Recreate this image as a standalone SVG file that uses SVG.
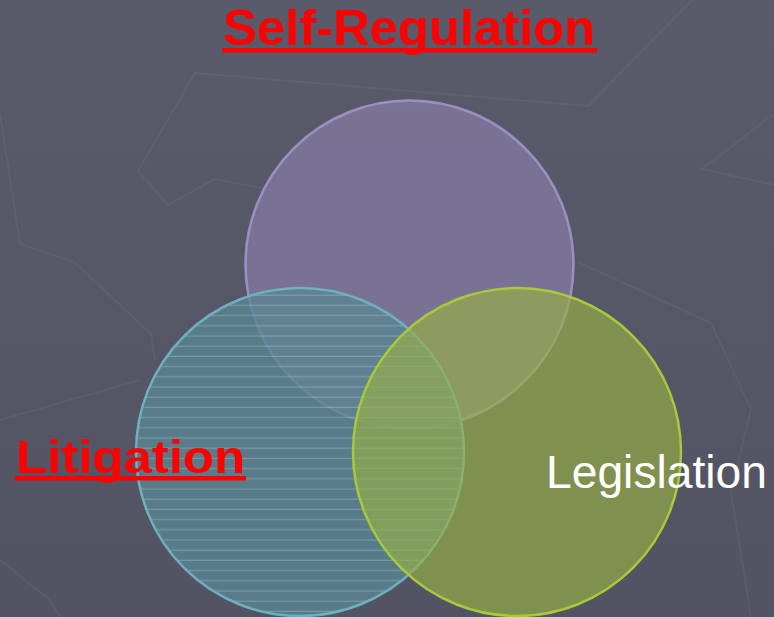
<svg xmlns="http://www.w3.org/2000/svg" width="774" height="617" viewBox="0 0 774 617">
<style>
.deco{fill:none;stroke:#ffffff;stroke-opacity:0.045;stroke-width:2}
.title{font-family:"Liberation Sans",Arial,sans-serif;font-weight:bold;fill:#ff0000}
.label{font-family:"Liberation Sans",Arial,sans-serif;fill:#ffffff}
</style>
<defs>
<linearGradient id="bgGrad" x1="0" y1="0" x2="0" y2="1">
<stop offset="0" stop-color="#595b6b"/>
<stop offset="1" stop-color="#525464"/>
</linearGradient>
<pattern id="hlines" x="0" y="0" width="20" height="10.2" patternUnits="userSpaceOnUse">
<rect x="0" y="0" width="20" height="10.2" fill="#5b8592"/>
<rect x="0" y="9" width="20" height="1.2" fill="#78aab6"/>
</pattern>
</defs>
<rect width="774" height="617" fill="url(#bgGrad)"/>
<g id="background-decor">
<polyline class="deco" points="588,106 195,73 138,171 168,205 215,179 277,191"/>
<polyline class="deco" points="588,106 692,0"/>
<polyline class="deco" points="0,114 20,244 74,262 151,334 155,360"/>
<polyline class="deco" points="774,114 702,169 774,185"/>
<polyline class="deco" points="578,262 711,323 751,409 731,492 751,617"/>
<polyline class="deco" points="0,420 140,380"/>
<polyline class="deco" points="0,560 50,600 60,617"/>
</g>
<g id="node-self-regulation-circle">
<circle cx="409.5" cy="264.5" r="164" fill="#847aa0" fill-opacity="0.78" stroke="#a596cf" stroke-width="2.5" stroke-opacity="0.85"/>
</g>
<g id="node-litigation-circle">
<circle cx="300" cy="452" r="164" fill="url(#hlines)" fill-opacity="0.8" stroke="#6fb0c0" stroke-width="2.5"/>
</g>
<g id="node-legislation-circle">
<circle cx="517" cy="452" r="164" fill="#98b044" fill-opacity="0.65" stroke="#a9c93a" stroke-width="2.5"/>
</g>
<g id="node-self-regulation-label">
<text class="title" x="223" y="45" font-size="50" textLength="372" lengthAdjust="spacingAndGlyphs">Self-Regulation</text>
<rect x="222" y="48" width="375" height="4.5" fill="#ff0000"/>
</g>
<g id="node-litigation-label">
<text class="title" x="16" y="473" font-size="47" textLength="229" lengthAdjust="spacingAndGlyphs">Litigation</text>
<rect x="15" y="476" width="231" height="4.5" fill="#ff0000"/>
</g>
<g id="node-legislation-label">
<text class="label" x="546" y="488" font-size="46" textLength="221" lengthAdjust="spacingAndGlyphs">Legislation</text>
</g>
<g id="connectors"></g>
</svg>
